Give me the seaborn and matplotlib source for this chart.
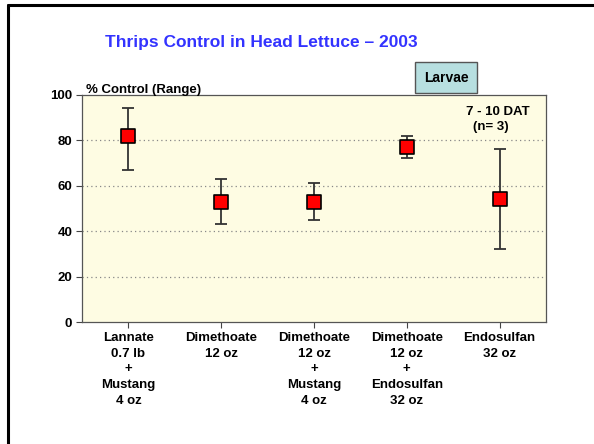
import numpy as np
import matplotlib.pyplot as plt
import seaborn as sns
from matplotlib.lines import Line2D

# data
treatments = ["Lannate\n0.7 lb\n+\nMustang\n4 oz",
              "Dimethoate\n12 oz",
              "Dimethoate\n12 oz\n+\nMustang\n4 oz",
              "Dimethoate\n12 oz\n+\nEndosulfan\n32 oz",
              "Endosulfan\n32 oz"]
mean_control = [82, 53, 53, 77, 54]
range_low = [67, 43, 45, 72, 32]
range_high = [94, 63, 61, 82, 76]
y_ticks = [0, 20, 40, 60, 80, 100]

sns.set_style("white")
plt.rcParams['font.family'] = ['Liberation Sans', 'DejaVu Sans']
plt.rcParams['font.weight'] = 'bold'
plt.rcParams['text.color'] = 'black'
plt.rcParams['xtick.color'] = 'black'
plt.rcParams['ytick.color'] = 'black'

fig = plt.figure(figsize=(5.94, 4.44), dpi=100)
ax = fig.add_axes([82 / 594, 1 - 322 / 444, (546 - 82) / 594, (322 - 94.7) / 444])
ax.set_facecolor("#FEFCE3")

x = np.arange(len(treatments))
mean = np.array(mean_control)
yerr = [mean - np.array(range_low), np.array(range_high) - mean]
ax.errorbar(x, mean, yerr=yerr, fmt='none', ecolor='#333333', elinewidth=1.3,
            capsize=4.5, capthick=1.3, zorder=3)
sns.scatterplot(x=x, y=mean, marker='s', s=110, color='#FF0000',
                edgecolor='black', linewidth=1.2, zorder=4, ax=ax, legend=False)

ax.set_xlim(-0.5, 4.5)
ax.set_ylim(0, 100)
ax.set_yticks(y_ticks)
ax.set_yticklabels([str(v) for v in y_ticks], fontsize=9.5, fontweight='bold')
ax.set_xticks(x)
ax.set_xticklabels(treatments, fontsize=9.5, fontweight='bold', linespacing=1.42)
for v in y_ticks[1:-1]:
    ax.axhline(v, color='#888888', linestyle=(0, (1, 2.5)), linewidth=0.9, zorder=1)
ax.tick_params(axis='both', direction='out', length=4, width=0.8, color='#444444',
               left=True, bottom=True, pad=3)
for s in ax.spines.values():
    s.set_color('#555555')
    s.set_linewidth(0.9)
ax.set_xlabel("")
ax.set_ylabel("")

fig.text(261 / 594, 1 - 42 / 444, "Thrips Control in Head Lettuce \u2013 2003",
         ha='center', va='center', fontsize=12.5, fontweight='bold', color='#3333FF')
fig.text(86 / 594, 1 - 93 / 444, "% Control (Range)", ha='left', va='baseline',
         fontsize=9.5, fontweight='bold')
fig.text(446 / 594, 1 - 77.5 / 444, "Larvae", ha='center', va='center', fontsize=10,
         fontweight='bold',
         bbox=dict(boxstyle='square,pad=0.62', facecolor='#B7DFE0', edgecolor='#555555',
                   linewidth=1))
fig.text(498 / 594, 1 - 112 / 444, "7 - 10 DAT", ha='center', va='center', fontsize=9.5,
         fontweight='bold')
fig.text(491 / 594, 1 - 127 / 444, "(n= 3)", ha='center', va='center', fontsize=9.5,
         fontweight='bold')

# slide frame, left and top edges only
fig.add_artist(Line2D([8 / 594, 8 / 594], [0, 1 - 5 / 444], color='black', linewidth=2.2,
                      transform=fig.transFigure))
fig.add_artist(Line2D([8 / 594, 1], [1 - 5 / 444, 1 - 5 / 444], color='black', linewidth=2.2,
                      transform=fig.transFigure))

fig.savefig("out.png", dpi=100)
